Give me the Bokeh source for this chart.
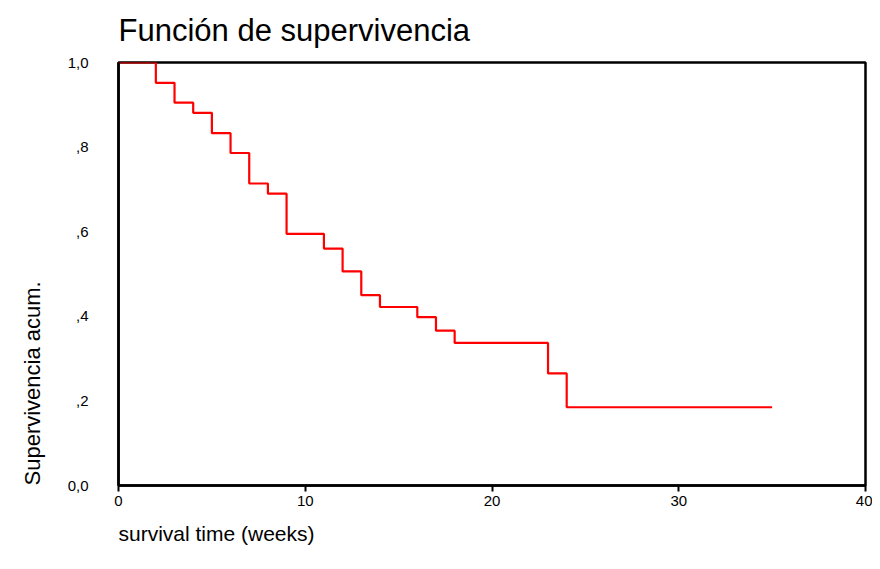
from bokeh.plotting import figure
from bokeh.models import Range1d, FixedTicker, Title
from bokeh.embed import file_html
from bokeh.resources import INLINE

# Kaplan-Meier survival function
time_weeks = [0, 2, 3, 4, 5, 6, 7, 8, 9, 11, 12, 13, 14, 16, 17, 18, 23, 24, 35]
cum_survival = [1.0, 0.952, 0.905, 0.881, 0.833, 0.786, 0.714, 0.690, 0.595,
                0.560, 0.506, 0.450, 0.422, 0.398, 0.366, 0.337, 0.265, 0.185, 0.185]

x_ticks = [0, 10, 20, 30, 40]
y_ticks = [0.0, 0.2, 0.4, 0.6, 0.8, 1.0]
y_tick_labels = ["0,0", ",2", ",4", ",6", ",8", "1,0"]

FONT = "Liberation Sans"
W, H = 872, 561

p = figure(width=W, height=H, output_backend="svg", toolbar_location=None,
           x_range=Range1d(0, 40), y_range=Range1d(0, 1),
           min_border_left=118, min_border_right=7, min_border_top=62, min_border_bottom=76)

p.title.text = "Función de supervivencia"
p.title.text_font = FONT
p.title.text_font_size = "31px"
p.title.text_font_style = "normal"
p.title.align = "left"
p.title.vertical_align = "top"
p.title.text_color = "black"
p.title.standoff = 25

p.step(time_weeks, cum_survival, mode="after", line_color="#ff0000", line_width=2.2)

p.grid.visible = False
p.outline_line_color = "black"
p.outline_line_width = 2.5
p.outline_line_alpha = 1
p.background_fill_color = "white"
p.border_fill_color = "white"

xa = p.xaxis[0]
xa.ticker = FixedTicker(ticks=x_ticks)
xa.minor_tick_line_color = None
xa.major_tick_in = 0
xa.major_tick_out = 6
xa.major_tick_line_width = 2
xa.axis_line_width = 2.5
xa.major_label_text_font = FONT
xa.major_label_text_font_size = "15px"
xa.major_label_standoff = 4
xa.major_label_text_color = "black"

ya = p.yaxis[0]
ya.ticker = FixedTicker(ticks=y_ticks)
ya.major_label_overrides = {t: l for t, l in zip(y_ticks, y_tick_labels)}
ya.minor_tick_line_color = None
ya.major_tick_in = 0
ya.major_tick_out = 0
ya.axis_line_width = 2.5
ya.major_label_text_font = FONT
ya.major_label_text_font_size = "15px"
ya.major_label_standoff = 30
ya.major_label_text_color = "black"

p.add_layout(Title(text="survival time (weeks)", align="left", vertical_align="bottom",
                   standoff=23, text_font=FONT, text_font_size="21px",
                   text_font_style="normal", text_color="black"), "below")
p.add_layout(Title(text="Supervivencia acum.", align="left", vertical_align="top",
                   standoff=36, text_font=FONT, text_font_size="22px",
                   text_font_style="normal", text_color="black"), "left")

open("out.html", "w").write(file_html(p, INLINE))
